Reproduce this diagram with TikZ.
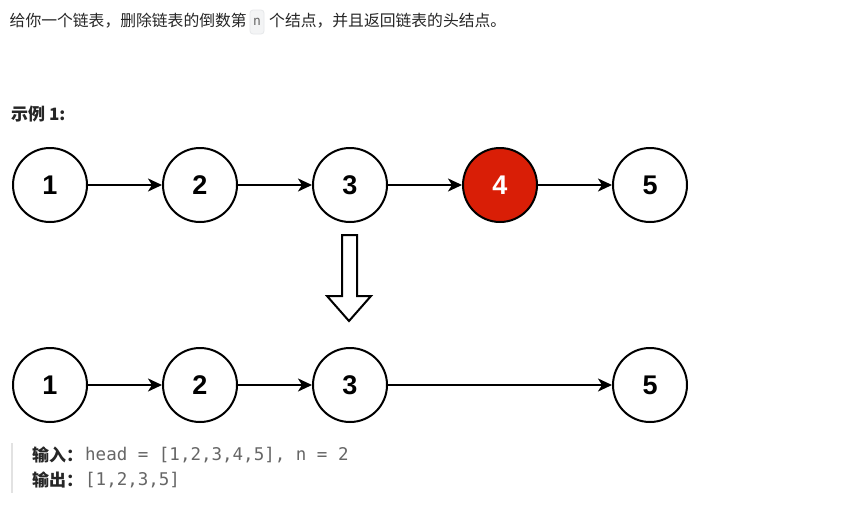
\documentclass[tikz,border=0pt]{standalone}
\usepackage{fontspec}
\setmainfont{Liberation Sans}
\setmonofont{DejaVu Sans Mono}
\newfontfamily\cjk{Noto Sans CJK SC}
\usetikzlibrary{arrows.meta}
\definecolor{txt}{HTML}{262626}
\definecolor{codegray}{HTML}{666666}
\definecolor{nodered}{HTML}{D91E06}
\definecolor{codebg}{HTML}{F3F4F5}
\definecolor{codeborder}{HTML}{E6E8EA}
\definecolor{bargray}{HTML}{E2E2E2}
\tikzset{
  lnode/.style={circle,draw=black,line width=2pt,fill=white,minimum size=74pt,inner sep=0pt,
    font=\fontsize{27}{30}\selectfont\bfseries,text=black},
  rednode/.style={lnode,fill=nodered,text=white},
  link/.style={line width=2pt,-{Stealth[length=14pt,width=13pt,inset=4pt]}},
  cn/.style={inner sep=0pt,anchor=west,text=txt,font=\cjk\fontsize{15.8}{18}\selectfont},
  cnb/.style={cn,font=\cjk\bfseries\fontsize{17}{19}\selectfont},
  codetxt/.style={inner sep=0pt,anchor=west,text=codegray,font=\ttfamily\fontsize{17.5}{19}\selectfont},
  codebox/.style={draw=codeborder,fill=codebg,rounded corners=3pt,line width=0.8pt,minimum width=14pt,
    minimum height=24pt,inner sep=0pt,text=codegray,font=\ttfamily\fontsize{13}{14}\selectfont},
}
\begin{document}
\begin{tikzpicture}[x=1pt,y=-1pt]
\useasboundingbox[fill=white] (0,0) rectangle (867,506);
% title line
\node[cn] (t1) at (9.5,21) {给你一个链表，删除链表的倒数第};
\node[codebox] (tn) at (257,22) {n};
\node[cn] (t2) at (269,21) {个结点，并且返回链表的头结点。};
% example label
\node[cnb] (ex) at (11,114) {示例 1:};
% row 1
\node[lnode] (a1) at (50,185) {1};
\node[lnode] (a2) at (200,185) {2};
\node[lnode] (a3) at (350,185) {3};
\node[rednode] (a4) at (500,185) {4};
\node[lnode] (a5) at (650,185) {5};
\draw[link] (a1) -- (a2);
\draw[link] (a2) -- (a3);
\draw[link] (a3) -- (a4);
\draw[link] (a4) -- (a5);
% hollow arrow
\draw[line width=2pt,line join=miter,fill=white] (342,235) -- (357,235) -- (357,296) -- (371,296) -- (349,321) -- (327,296) -- (342,296) -- cycle;
% row 2
\node[lnode] (b1) at (50,385) {1};
\node[lnode] (b2) at (200,385) {2};
\node[lnode] (b3) at (350,385) {3};
\node[lnode] (b5) at (650,385) {5};
\draw[link] (b1) -- (b2);
\draw[link] (b2) -- (b3);
\draw[link] (b3) -- (b5);
% input/output block
\fill[bargray] (11,443) rectangle (13,493);
\node[cnb] (in) at (32,455) {输入：};
\node[codetxt] (inv) at (85,455) {head = [1,2,3,4,5], n = 2};
\node[cnb] (out) at (32,480) {输出：};
\node[codetxt] (outv) at (85,480) {[1,2,3,5]};
\end{tikzpicture}
\end{document}
